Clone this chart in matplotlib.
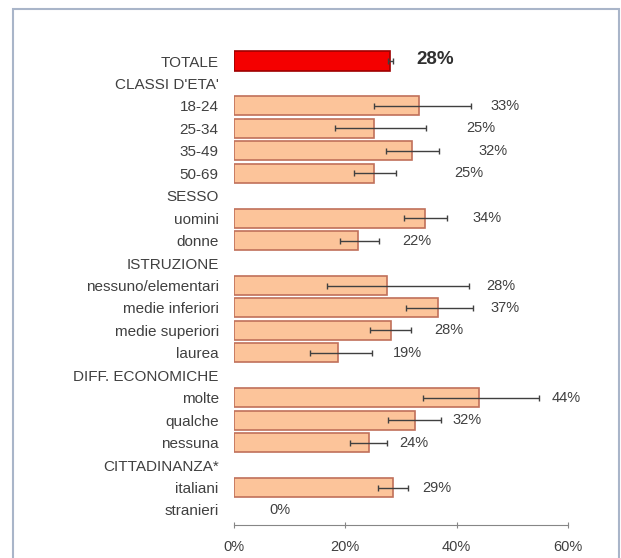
import numpy as np
import matplotlib
matplotlib.use("Agg")
from matplotlib import pyplot as plt
from matplotlib.patches import Rectangle

nan = np.nan

# rows from top to bottom, headers have no bar
labels = ["TOTALE", "CLASSI D'ETA'", "18-24", "25-34", "35-49", "50-69",
          "SESSO", "uomini", "donne",
          "ISTRUZIONE", "nessuno/elementari", "medie inferiori", "medie superiori", "laurea",
          "DIFF. ECONOMICHE", "molte", "qualche", "nessuna",
          "CITTADINANZA*", "italiani", "stranieri"]
values = [28.0, nan, 33.2, 25.2, 31.9, 25.2,
          nan, 34.4, 22.3,
          nan, 27.5, 36.7, 28.2, 18.6,
          nan, 44.0, 32.5, 24.3,
          nan, 28.6, 0.0]
ci_low = [27.6, nan, 25.2, 18.1, 27.3, 21.6,
          nan, 30.5, 19.1,
          nan, 16.7, 30.9, 24.5, 13.7,
          nan, 33.9, 27.7, 20.9,
          nan, 25.9, nan]
ci_high = [28.5, nan, 42.5, 34.5, 36.9, 29.1,
           nan, 38.3, 26.1,
           nan, 42.2, 42.9, 31.8, 24.8,
           nan, 54.8, 37.2, 27.4,
           nan, 31.3, nan]
x_ticks = [0, 20, 40, 60]

# where the value labels sit (centre, in % units), as placed in the picture
label_x = [36.2, nan, 48.6, 44.3, 46.5, 42.2,
           nan, 45.5, 32.8,
           nan, 47.9, 48.6, 38.5, 31.2,
           nan, 59.6, 41.8, 32.3,
           nan, 36.5, 8.2]

TXT = '#404040'
plt.rcParams['font.family'] = ['Liberation Sans', 'DejaVu Sans']

fig = plt.figure(figsize=(6.21, 5.58), dpi=100)
ax = fig.add_axes([234/621, 1-525/558, (568-234)/621, (525-46)/558])

pos = np.arange(len(labels))
vals = np.array(values)
lo = np.array(ci_low)
hi = np.array(ci_high)

# only rows with a non-zero value get a bar
has_bar = np.nan_to_num(vals) > 0
face = ['#F40000' if i == 0 else '#FCC49A' for i in pos[has_bar]]
edge = ['#9E0000' if i == 0 else '#C0705A' for i in pos[has_bar]]
ax.barh(pos[has_bar], vals[has_bar], height=0.85, color=face, edgecolor=edge, linewidth=1.2)

ok = ~np.isnan(lo)
ax.errorbar(vals[ok], pos[ok], xerr=[vals[ok]-lo[ok], hi[ok]-vals[ok]], fmt='none',
            ecolor='#404040', elinewidth=1, capsize=2, capthick=1)

for i, v in enumerate(values):
    if np.isnan(v):
        continue
    if i == 0:
        ax.text(label_x[i], i - 0.05, f"{round(v)}%", ha='center', va='center',
                fontsize=13.5, fontweight='bold', color='#303030')
    else:
        ax.text(label_x[i], i, f"{round(v)}%", ha='center', va='center',
                fontsize=10.5, color=TXT)

ax.set_xlim(0, 60)
ax.set_ylim(20.67, -0.67)
ax.set_yticks(pos)
ax.set_yticklabels(labels, fontsize=11, color=TXT)
ax.tick_params(axis='y', length=0, pad=11)
ax.set_xticks(x_ticks)
ax.set_xticklabels([f"{t}%" for t in x_ticks], fontsize=10.5, color=TXT)
ax.tick_params(axis='x', direction='inout', length=5, color='#868686', pad=8)
for s in ['top', 'right', 'left']:
    ax.spines[s].set_visible(False)
ax.spines['bottom'].set_color('#868686')

# light frame around the chart
fig.patches.append(Rectangle((12.5/621, -0.1), (619-12.5)/621, 1.1 - 9.5/558,
                             transform=fig.transFigure, fill=False,
                             edgecolor='#A9B5C9', linewidth=1.5))

fig.savefig('out.png', dpi=100)
